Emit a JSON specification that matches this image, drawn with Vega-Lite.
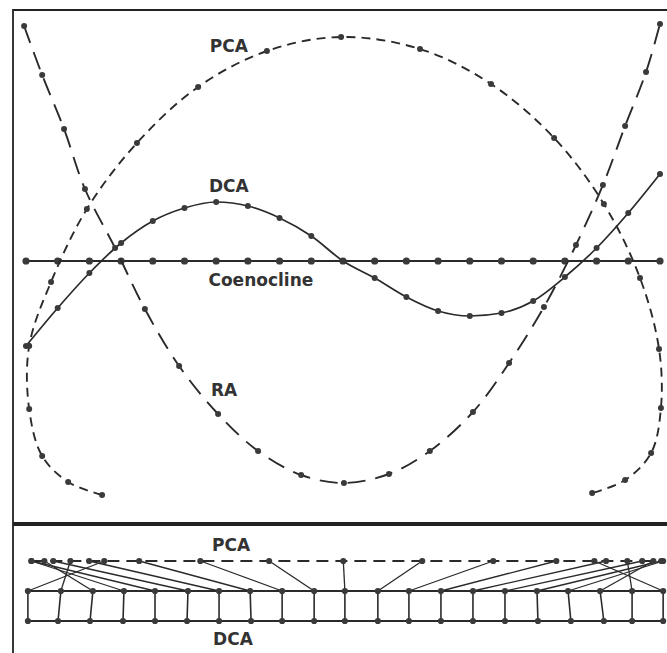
{
  "$schema": "https://vega.github.io/schema/vega-lite/v6.json",
  "padding": {"left": 12, "top": 9, "right": 0, "bottom": 0},
  "background": "white",
  "spacing": 0,
  "config": {
    "view": {"stroke": "#222", "strokeWidth": 1.8},
    "axis": {"disable": true},
    "text": {"font": "DejaVu Sans", "fontSize": 17, "fontWeight": "bold", "color": "#333333"}
  },
  "datasets": {
    "curves": [
      {"m": "Coenocline", "i": 0, "x": 0, "y": 0}, {"m": "Coenocline", "i": 1, "x": 1, "y": 0}, {"m": "Coenocline", "i": 2, "x": 2, "y": 0},
      {"m": "Coenocline", "i": 3, "x": 3, "y": 0}, {"m": "Coenocline", "i": 4, "x": 4, "y": 0}, {"m": "Coenocline", "i": 5, "x": 5, "y": 0},
      {"m": "Coenocline", "i": 6, "x": 6, "y": 0}, {"m": "Coenocline", "i": 7, "x": 7, "y": 0}, {"m": "Coenocline", "i": 8, "x": 8, "y": 0},
      {"m": "Coenocline", "i": 9, "x": 9, "y": 0}, {"m": "Coenocline", "i": 10, "x": 10, "y": 0}, {"m": "Coenocline", "i": 11, "x": 11, "y": 0},
      {"m": "Coenocline", "i": 12, "x": 12, "y": 0}, {"m": "Coenocline", "i": 13, "x": 13, "y": 0}, {"m": "Coenocline", "i": 14, "x": 14, "y": 0},
      {"m": "Coenocline", "i": 15, "x": 15, "y": 0}, {"m": "Coenocline", "i": 16, "x": 16, "y": 0}, {"m": "Coenocline", "i": 17, "x": 17, "y": 0},
      {"m": "Coenocline", "i": 18, "x": 18, "y": 0}, {"m": "Coenocline", "i": 19, "x": 19, "y": 0}, {"m": "Coenocline", "i": 20, "x": 20, "y": 0},
      {"m": "DCA", "i": 0, "x": 0, "y": -0.85}, {"m": "DCA", "i": 1, "x": 1, "y": -0.47}, {"m": "DCA", "i": 2, "x": 2, "y": -0.12},
      {"m": "DCA", "i": 3, "x": 3, "y": 0.18}, {"m": "DCA", "i": 4, "x": 4, "y": 0.40}, {"m": "DCA", "i": 5, "x": 5, "y": 0.53},
      {"m": "DCA", "i": 6, "x": 6, "y": 0.59}, {"m": "DCA", "i": 7, "x": 7, "y": 0.55}, {"m": "DCA", "i": 8, "x": 8, "y": 0.43},
      {"m": "DCA", "i": 9, "x": 9, "y": 0.25}, {"m": "DCA", "i": 10, "x": 10, "y": 0}, {"m": "DCA", "i": 11, "x": 11, "y": -0.17},
      {"m": "DCA", "i": 12, "x": 12, "y": -0.36}, {"m": "DCA", "i": 13, "x": 13, "y": -0.50}, {"m": "DCA", "i": 14, "x": 14, "y": -0.55},
      {"m": "DCA", "i": 15, "x": 15, "y": -0.52}, {"m": "DCA", "i": 16, "x": 16, "y": -0.40}, {"m": "DCA", "i": 17, "x": 17, "y": -0.16},
      {"m": "DCA", "i": 18, "x": 18, "y": 0.13}, {"m": "DCA", "i": 19, "x": 19, "y": 0.48}, {"m": "DCA", "i": 20, "x": 20, "y": 0.87},
      {"m": "PCA", "i": 0, "x": 2.40, "y": -2.34}, {"m": "PCA", "i": 1, "x": 1.33, "y": -2.21}, {"m": "PCA", "i": 2, "x": 0.51, "y": -1.95},
      {"m": "PCA", "i": 3, "x": 0.10, "y": -1.48}, {"m": "PCA", "i": 4, "x": 0.10, "y": -0.85}, {"m": "PCA", "i": 5, "x": 0.79, "y": -0.21},
      {"m": "PCA", "i": 6, "x": 1.92, "y": 0.52}, {"m": "PCA", "i": 7, "x": 3.50, "y": 1.18}, {"m": "PCA", "i": 8, "x": 5.43, "y": 1.74},
      {"m": "PCA", "i": 9, "x": 7.60, "y": 2.10}, {"m": "PCA", "i": 10, "x": 9.94, "y": 2.24}, {"m": "PCA", "i": 11, "x": 12.43, "y": 2.12},
      {"m": "PCA", "i": 12, "x": 14.67, "y": 1.77}, {"m": "PCA", "i": 13, "x": 16.66, "y": 1.23}, {"m": "PCA", "i": 14, "x": 18.23, "y": 0.57},
      {"m": "PCA", "i": 15, "x": 19.37, "y": -0.17}, {"m": "PCA", "i": 16, "x": 19.97, "y": -0.88}, {"m": "PCA", "i": 17, "x": 20.03, "y": -1.47},
      {"m": "PCA", "i": 18, "x": 19.72, "y": -1.92}, {"m": "PCA", "i": 19, "x": 18.90, "y": -2.19}, {"m": "PCA", "i": 20, "x": 17.86, "y": -2.32},
      {"m": "RA", "i": 0, "x": -0.06, "y": 2.35}, {"m": "RA", "i": 1, "x": 0.51, "y": 1.86}, {"m": "RA", "i": 2, "x": 1.20, "y": 1.32},
      {"m": "RA", "i": 3, "x": 1.86, "y": 0.72}, {"m": "RA", "i": 4, "x": 2.81, "y": 0.13}, {"m": "RA", "i": 5, "x": 3.75, "y": -0.48},
      {"m": "RA", "i": 6, "x": 4.83, "y": -1.05}, {"m": "RA", "i": 7, "x": 6.06, "y": -1.53}, {"m": "RA", "i": 8, "x": 7.32, "y": -1.90},
      {"m": "RA", "i": 9, "x": 8.68, "y": -2.14}, {"m": "RA", "i": 10, "x": 10.03, "y": -2.22}, {"m": "RA", "i": 11, "x": 11.45, "y": -2.13},
      {"m": "RA", "i": 12, "x": 12.74, "y": -1.90}, {"m": "RA", "i": 13, "x": 14.10, "y": -1.51}, {"m": "RA", "i": 14, "x": 15.24, "y": -1.02},
      {"m": "RA", "i": 15, "x": 16.34, "y": -0.46}, {"m": "RA", "i": 16, "x": 17.35, "y": 0.16}, {"m": "RA", "i": 17, "x": 18.20, "y": 0.76},
      {"m": "RA", "i": 18, "x": 18.90, "y": 1.35}, {"m": "RA", "i": 19, "x": 19.56, "y": 1.89}, {"m": "RA", "i": 20, "x": 20.00, "y": 2.37}
    ],
    "strip": [
      {"i": 0, "pca": 2.47, "top": 0.06, "bot": 0.06},
      {"i": 1, "pca": 1.40, "top": 1.10, "bot": 1.01},
      {"i": 2, "pca": 0.58, "top": 2.11, "bot": 2.02},
      {"i": 3, "pca": 0.17, "top": 3.09, "bot": 3.06},
      {"i": 4, "pca": 0.17, "top": 4.07, "bot": 4.07},
      {"i": 5, "pca": 0.86, "top": 5.11, "bot": 5.08},
      {"i": 6, "pca": 1.99, "top": 6.09, "bot": 6.09},
      {"i": 7, "pca": 3.57, "top": 7.07, "bot": 7.10},
      {"i": 8, "pca": 5.50, "top": 8.08, "bot": 8.08},
      {"i": 9, "pca": 7.67, "top": 9.09, "bot": 9.09},
      {"i": 10, "pca": 10.01, "top": 10.06, "bot": 10.06},
      {"i": 11, "pca": 12.50, "top": 11.10, "bot": 11.10},
      {"i": 12, "pca": 14.74, "top": 12.08, "bot": 12.08},
      {"i": 13, "pca": 16.73, "top": 13.09, "bot": 13.09},
      {"i": 14, "pca": 18.30, "top": 14.10, "bot": 14.10},
      {"i": 15, "pca": 19.44, "top": 15.11, "bot": 15.11},
      {"i": 16, "pca": 20.04, "top": 16.12, "bot": 16.15},
      {"i": 17, "pca": 20.10, "top": 17.10, "bot": 17.19},
      {"i": 18, "pca": 19.79, "top": 18.11, "bot": 18.23},
      {"i": 19, "pca": 18.97, "top": 19.12, "bot": 19.12},
      {"i": 20, "pca": 17.93, "top": 20.10, "bot": 20.10}
    ],
    "labelsTop": [
      {"label": "PCA", "x": 6.40, "y": 2.14},
      {"label": "DCA", "x": 6.40, "y": 0.74},
      {"label": "Coenocline", "x": 7.41, "y": -0.20},
      {"label": "RA", "x": 6.25, "y": -1.30}
    ],
    "labelsBottom": [
      {"label": "PCA", "x": 6.47, "y": 1.5},
      {"label": "DCA", "x": 6.53, "y": -1.63}
    ]
  },
  "vconcat": [
    {
      "width": 655,
      "height": 513,
      "data": {"name": "curves"},
      "encoding": {
        "x": {"field": "x", "type": "quantitative", "scale": {"domain": [-0.4101, 20.253], "nice": false, "zero": false}, "axis": null},
        "y": {"field": "y", "type": "quantitative", "scale": {"domain": [-2.62, 2.51], "nice": false, "zero": false}, "axis": null}
      },
      "layer": [
        {"transform": [{"filter": "datum.m == 'Coenocline'"}], "mark": {"type": "line", "color": "#2a2a2a", "strokeWidth": 2.2}, "encoding": {"order": {"field": "i"}}},
        {"transform": [{"filter": "datum.m == 'Coenocline'"}], "mark": {"type": "point", "filled": true, "color": "#3a3a3a", "size": 52, "opacity": 1}},
        {"transform": [{"filter": "datum.m == 'DCA'"}], "mark": {"type": "line", "color": "#2a2a2a", "strokeWidth": 1.7, "interpolate": "monotone"}, "encoding": {"order": {"field": "i"}}},
        {"transform": [{"filter": "datum.m == 'DCA'"}], "mark": {"type": "point", "filled": true, "color": "#3a3a3a", "size": 36, "opacity": 1}},
        {"transform": [{"filter": "datum.m == 'PCA'"}], "mark": {"type": "line", "color": "#2a2a2a", "strokeWidth": 1.9, "interpolate": "catmull-rom", "strokeDash": [9, 6]}, "encoding": {"order": {"field": "i"}}},
        {"transform": [{"filter": "datum.m == 'PCA'"}], "mark": {"type": "point", "filled": true, "color": "#3a3a3a", "size": 36, "opacity": 1}},
        {"transform": [{"filter": "datum.m == 'RA'"}], "mark": {"type": "line", "color": "#2a2a2a", "strokeWidth": 1.9, "interpolate": "catmull-rom", "strokeDash": [18, 10]}, "encoding": {"order": {"field": "i"}}},
        {"transform": [{"filter": "datum.m == 'RA'"}], "mark": {"type": "point", "filled": true, "color": "#3a3a3a", "size": 36, "opacity": 1}},
        {"data": {"name": "labelsTop"}, "mark": {"type": "text", "align": "center", "baseline": "middle"}, "encoding": {"text": {"field": "label"}}}
      ]
    },
    {
      "width": 655,
      "height": 129,
      "data": {"name": "strip"},
      "layer": [
        {"mark": {"type": "line", "color": "#2a2a2a", "strokeWidth": 1.9, "strokeDash": [12, 7]},
         "encoding": {"x": {"field": "pca", "type": "quantitative", "scale": {"domain": [-0.4101, 20.253], "nice": false, "zero": false}, "axis": null},
                      "y": {"datum": 1, "type": "quantitative", "scale": {"domain": [-2.1, 2.2], "nice": false, "zero": false}, "axis": null}}},
        {"mark": {"type": "line", "color": "#2a2a2a", "strokeWidth": 2},
         "encoding": {"x": {"field": "top", "type": "quantitative"}, "y": {"datum": 0, "type": "quantitative"}}},
        {"mark": {"type": "line", "color": "#2a2a2a", "strokeWidth": 2},
         "encoding": {"x": {"field": "bot", "type": "quantitative"}, "y": {"datum": -1, "type": "quantitative"}}},
        {"mark": {"type": "rule", "color": "#2a2a2a", "strokeWidth": 1.3},
         "encoding": {"x": {"field": "pca", "type": "quantitative"}, "y": {"datum": 1, "type": "quantitative"}, "x2": {"field": "top"}, "y2": {"datum": 0}}},
        {"mark": {"type": "rule", "color": "#2a2a2a", "strokeWidth": 1.6},
         "encoding": {"x": {"field": "top", "type": "quantitative"}, "y": {"datum": 0, "type": "quantitative"}, "x2": {"field": "bot"}, "y2": {"datum": -1}}},
        {"mark": {"type": "point", "filled": true, "color": "#3a3a3a", "size": 38, "opacity": 1},
         "encoding": {"x": {"field": "pca", "type": "quantitative"}, "y": {"datum": 1, "type": "quantitative"}}},
        {"mark": {"type": "point", "filled": true, "color": "#3a3a3a", "size": 38, "opacity": 1},
         "encoding": {"x": {"field": "top", "type": "quantitative"}, "y": {"datum": 0, "type": "quantitative"}}},
        {"mark": {"type": "point", "filled": true, "color": "#3a3a3a", "size": 38, "opacity": 1},
         "encoding": {"x": {"field": "bot", "type": "quantitative"}, "y": {"datum": -1, "type": "quantitative"}}},
        {"data": {"name": "labelsBottom"}, "mark": {"type": "text", "align": "center", "baseline": "middle"},
         "encoding": {"x": {"field": "x", "type": "quantitative"}, "y": {"field": "y", "type": "quantitative"}, "text": {"field": "label"}}}
      ]
    }
  ]
}
